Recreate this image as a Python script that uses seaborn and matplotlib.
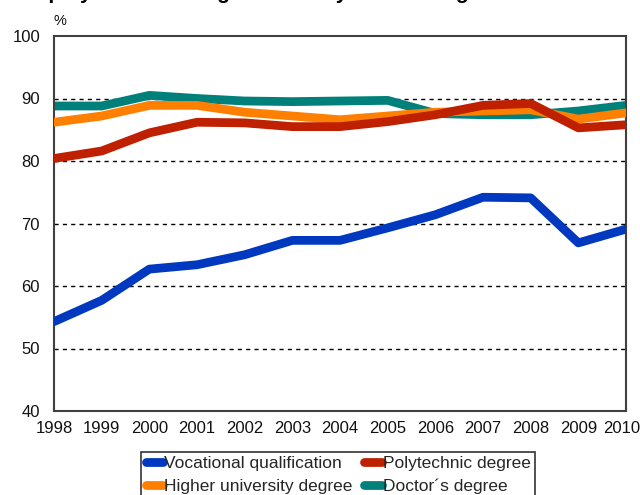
import matplotlib
matplotlib.use("Agg")
import matplotlib.pyplot as plt
import matplotlib.transforms as mtransforms
import seaborn as sns
import pandas as pd

years = list(range(1998, 2011))
vocational = [54.3, 57.7, 62.7, 63.4, 65.0, 67.3, 67.3, 69.3, 71.4, 74.2, 74.1, 66.9, 69.1]
polytechnic = [80.4, 81.6, 84.5, 86.2, 86.1, 85.5, 85.5, 86.3, 87.4, 88.9, 89.2, 85.3, 85.8]
higher_univ = [86.2, 87.2, 88.9, 88.9, 87.8, 87.2, 86.6, 87.2, 87.8, 88.0, 88.2, 86.7, 87.7]
doctor = [88.8, 88.8, 90.5, 90.0, 89.6, 89.5, 89.6, 89.7, 87.6, 87.4, 87.4, 88.0, 88.9]

series_names = ["Vocational qualification", "Polytechnic degree",
                "Higher university degree", "Doctor\u00b4s degree"]
series_values = [vocational, polytechnic, higher_univ, doctor]
colors = ["#0039BF", "#BE2000", "#FF8000", "#00807A"]
zorders = [5, 4, 3, 2]

sns.set_theme(style="white")
plt.rcParams["font.family"] = ["Liberation Sans", "DejaVu Sans"]

fig = plt.figure(figsize=(6.4, 4.95), dpi=100)
ax = fig.add_axes([54 / 640, 1 - 411 / 495, (626 - 54) / 640, (411 - 36) / 495])

lines = {}
for name, vals, col, z in zip(series_names, series_values, colors, zorders):
    df = pd.DataFrame({"year": years, "value": vals})
    sns.lineplot(data=df, x="year", y="value", ax=ax, color=col, linewidth=6.3,
                 solid_capstyle="round", solid_joinstyle="round", zorder=z,
                 label=name, legend=False)
    lines[name] = ax.lines[-1]

ax.set_xlim(1998, 2010)
ax.set_ylim(40, 100)
ax.set_xticks(years)
ax.set_yticks(range(40, 101, 10))
ax.set_xlabel("")
ax.set_ylabel("")
ax.tick_params(axis="both", length=0, labelsize=12, colors="#111111")
ax.tick_params(axis="y", pad=10)
ax.tick_params(axis="x", pad=7)

# keep the last year label inside the canvas
last = ax.get_xticklabels()[-1]
last.set_transform(last.get_transform() +
                   mtransforms.ScaledTranslation(-4 / 100, 0, fig.dpi_scale_trans))

for v in range(50, 100, 10):
    ax.axhline(v, color="black", linewidth=1, linestyle=(0, (3, 3)), zorder=1)

for sp in ax.spines.values():
    sp.set_color("#404040")
    sp.set_linewidth(1.5)

fig.text(54 / 640, 1 - 21 / 495, "%", fontsize=10.5, va="center", ha="left",
         color="#111111")

fig.text(16 / 640, 1.0 + 1 / 495, "Employment rate of graduates by level of degree",
         fontsize=15, fontweight="bold", ha="left", va="baseline", color="black")

order = ["Vocational qualification", "Higher university degree",
         "Polytechnic degree", "Doctor\u00b4s degree"]
leg = fig.legend([lines[n] for n in order], order, ncol=2,
                 loc="upper center", bbox_to_anchor=(338 / 640, 1 - 443 / 495),
                 frameon=True, fancybox=False, edgecolor="black",
                 fontsize=12.5, handlelength=1.0, handletextpad=0.05,
                 columnspacing=0.7, borderpad=0.25, labelspacing=0.45)
leg.get_frame().set_linewidth(1.2)

fig.savefig("out.png", dpi=100)
